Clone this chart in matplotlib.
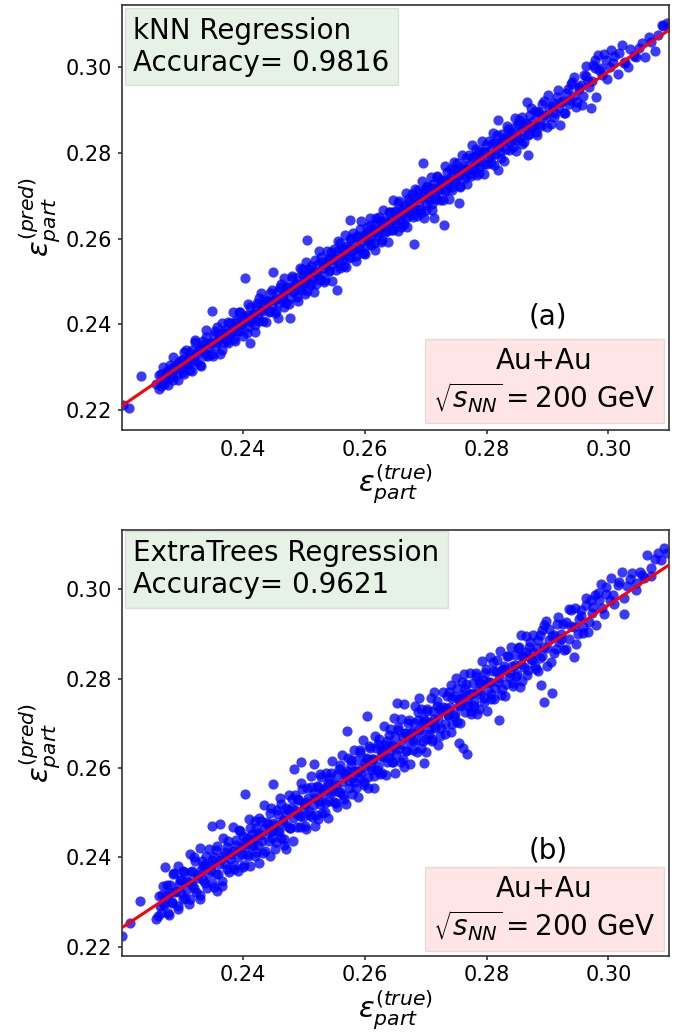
import matplotlib
matplotlib.use('Agg')
import matplotlib.pyplot as plt
import numpy as np

# ---------------- data ----------------
# kNN panel: (true, predicted) points, outer scatter
knn_points = [
    (0.2203,0.2213),(0.2213,0.2205),(0.2232,0.2280),(0.2257,0.2262),(0.2262,0.2250),(0.2266,0.2284),
    (0.2270,0.2262),(0.2275,0.2291),(0.2279,0.2276),(0.2283,0.2298),(0.2286,0.2270),(0.2289,0.2302),
    (0.2292,0.2284),(0.2295,0.2312),(0.2298,0.2297),
    (0.2301,0.2317),(0.2304,0.2285),(0.2307,0.2341),(0.2310,0.2308),(0.2313,0.2334),(0.2316,0.2292),
    (0.2319,0.2327),(0.2322,0.2363),(0.2325,0.2313),(0.2328,0.2342),(0.2331,0.2302),(0.2334,0.2362),
    (0.2337,0.2333),(0.2340,0.2386),(0.2343,0.2327),(0.2346,0.2357),(0.2349,0.2431),(0.2351,0.2327),
    (0.2354,0.2385),(0.2357,0.2358),(0.2360,0.2378),(0.2363,0.2331),(0.2366,0.2404),(0.2369,0.2360),
    (0.2372,0.2381),(0.2375,0.2356),(0.2378,0.2404),(0.2381,0.2379),(0.2384,0.2428),(0.2387,0.2361),
    (0.2390,0.2406),(0.2393,0.2384),(0.2396,0.2430),(0.2399,0.2400),
    (0.2401,0.2419),(0.2404,0.2508),(0.2406,0.2379),(0.2409,0.2447),(0.2412,0.2357),(0.2414,0.2405),
    (0.2417,0.2425),(0.2420,0.2383),(0.2423,0.2451),(0.2426,0.2409),(0.2429,0.2474),(0.2432,0.2432),
    (0.2435,0.2456),(0.2438,0.2406),(0.2441,0.2454),(0.2444,0.2432),(0.2447,0.2480),(0.2450,0.2523),
    (0.2452,0.2427),(0.2455,0.2460),(0.2458,0.2416),(0.2461,0.2486),(0.2464,0.2459),(0.2467,0.2508),
    (0.2470,0.2451),(0.2473,0.2488),(0.2476,0.2447),(0.2478,0.2414),(0.2481,0.2512),(0.2484,0.2475),
    (0.2487,0.2495),(0.2490,0.2455),(0.2493,0.2531),(0.2496,0.2481),(0.2498,0.2516),
    (0.2501,0.2497),(0.2503,0.2546),(0.2505,0.2596),(0.2506,0.2477),(0.2509,0.2530),(0.2511,0.2497),
    (0.2514,0.2523),(0.2517,0.2476),(0.2519,0.2550),(0.2522,0.2515),(0.2525,0.2571),(0.2527,0.2503),
    (0.2530,0.2546),(0.2533,0.2499),(0.2535,0.2538),(0.2538,0.2571),(0.2541,0.2524),(0.2543,0.2554),
    (0.2546,0.2502),(0.2549,0.2575),(0.2551,0.2549),(0.2554,0.2480),(0.2556,0.2595),(0.2559,0.2532),
    (0.2562,0.2575),(0.2564,0.2553),(0.2567,0.2608),(0.2570,0.2533),(0.2572,0.2578),(0.2575,0.2598),
    (0.2576,0.2643),(0.2578,0.2557),(0.2580,0.2613),(0.2583,0.2576),(0.2586,0.2547),(0.2588,0.2607),
    (0.2591,0.2577),(0.2594,0.2640),(0.2596,0.2567),(0.2599,0.2608),
    (0.2601,0.2564),(0.2604,0.2627),(0.2606,0.2594),(0.2609,0.2649),(0.2611,0.2584),(0.2614,0.2622),
    (0.2617,0.2573),(0.2619,0.2647),(0.2622,0.2615),(0.2625,0.2641),(0.2627,0.2593),(0.2630,0.2666),
    (0.2633,0.2616),(0.2635,0.2638),(0.2638,0.2591),(0.2641,0.2661),(0.2643,0.2621),(0.2646,0.2689),
    (0.2649,0.2644),(0.2651,0.2661),(0.2654,0.2617),(0.2657,0.2687),(0.2659,0.2645),(0.2662,0.2662),
    (0.2665,0.2635),(0.2667,0.2705),(0.2670,0.2628),(0.2672,0.2685),(0.2675,0.2655),(0.2678,0.2704),
    (0.2680,0.2670),(0.2681,0.2588),(0.2683,0.2716),(0.2686,0.2652),(0.2688,0.2694),(0.2691,0.2667),
    (0.2694,0.2734),(0.2696,0.2775),(0.2697,0.2649),(0.2699,0.2715),
    (0.2701,0.2667),(0.2703,0.2721),(0.2706,0.2690),(0.2708,0.2744),(0.2711,0.2667),(0.2713,0.2647),
    (0.2714,0.2718),(0.2717,0.2691),(0.2719,0.2745),(0.2722,0.2713),(0.2725,0.2736),(0.2728,0.2689),
    (0.2730,0.2632),(0.2731,0.2769),(0.2733,0.2714),(0.2736,0.2737),(0.2739,0.2693),(0.2741,0.2762),
    (0.2744,0.2720),(0.2747,0.2778),(0.2750,0.2738),(0.2752,0.2760),(0.2755,0.2682),(0.2757,0.2723),
    (0.2760,0.2794),(0.2763,0.2747),(0.2765,0.2763),(0.2768,0.2726),(0.2771,0.2795),(0.2773,0.2751),
    (0.2776,0.2817),(0.2779,0.2770),(0.2781,0.2792),(0.2784,0.2748),(0.2787,0.2805),(0.2789,0.2770),
    (0.2792,0.2828),(0.2795,0.2751),(0.2798,0.2802),
    (0.2801,0.2773),(0.2804,0.2828),(0.2807,0.2793),(0.2810,0.2846),(0.2813,0.2772),(0.2816,0.2822),
    (0.2818,0.2876),(0.2819,0.2760),(0.2822,0.2801),(0.2825,0.2844),(0.2828,0.2780),(0.2831,0.2830),
    (0.2834,0.2863),(0.2837,0.2806),(0.2840,0.2849),(0.2843,0.2832),(0.2846,0.2880),(0.2849,0.2805),
    (0.2852,0.2866),(0.2855,0.2834),(0.2858,0.2882),(0.2861,0.2825),(0.2864,0.2866),(0.2867,0.2919),
    (0.2868,0.2795),(0.2870,0.2844),(0.2873,0.2905),(0.2876,0.2862),(0.2880,0.2896),(0.2883,0.2842),
    (0.2886,0.2892),(0.2890,0.2862),(0.2894,0.2920),(0.2898,0.2882),
    (0.2901,0.2934),(0.2905,0.2866),(0.2909,0.2915),(0.2913,0.2892),(0.2917,0.2946),(0.2921,0.2864),
    (0.2925,0.2921),(0.2929,0.2892),(0.2933,0.2949),(0.2937,0.2923),(0.2940,0.2965),(0.2944,0.2977),
    (0.2948,0.2919),(0.2952,0.2952),(0.2956,0.2911),(0.2960,0.2980),(0.2964,0.3002),(0.2966,0.2966),
    (0.2971,0.2903),(0.2975,0.3005),(0.2978,0.3016),(0.2979,0.2930),(0.2983,0.3028),(0.2988,0.2998),
    (0.2992,0.3030),(0.2997,0.2972),(0.3005,0.3039),(0.3010,0.3025),(0.3015,0.2984),(0.3022,0.3050),
    (0.3028,0.3012),(0.3033,0.3000),(0.3042,0.3025),(0.3050,0.3043),(0.3060,0.3023),(0.3066,0.3070),
    (0.3076,0.3036),(0.3082,0.3075),(0.3088,0.3097),(0.3096,0.3101),(0.3098,0.3092),
]

# kNN panel: dense core of the band
knn_core = [
    (0.2262,0.2282),(0.2266,0.2256),(0.2268,0.2301),(0.2271,0.2273),(0.2275,0.2287),(0.2277,0.2260),
    (0.2280,0.2306),(0.2284,0.2280),(0.2286,0.2324),(0.2289,0.2297),(0.2293,0.2271),(0.2295,0.2311),
    (0.2298,0.2318),
    (0.2302,0.2290),(0.2304,0.2335),(0.2307,0.2307),(0.2311,0.2321),(0.2313,0.2294),(0.2316,0.2340),
    (0.2320,0.2314),(0.2322,0.2358),(0.2325,0.2331),(0.2329,0.2305),(0.2331,0.2345),(0.2334,0.2352),
    (0.2338,0.2326),(0.2340,0.2371),(0.2343,0.2343),(0.2347,0.2357),(0.2349,0.2330),
    (0.2352,0.2375),(0.2356,0.2349),(0.2358,0.2393),(0.2361,0.2366),(0.2365,0.2340),(0.2367,0.2380),
    (0.2370,0.2387),(0.2374,0.2361),(0.2376,0.2406),(0.2379,0.2378),(0.2383,0.2392),(0.2385,0.2365),
    (0.2388,0.2411),(0.2392,0.2385),(0.2394,0.2429),(0.2397,0.2402),
    (0.2400,0.2374),(0.2403,0.2415),(0.2406,0.2422),(0.2408,0.2394),(0.2411,0.2440),(0.2414,0.2412),
    (0.2416,0.2424),(0.2419,0.2398),(0.2422,0.2444),(0.2424,0.2416),(0.2427,0.2461),(0.2430,0.2434),
    (0.2433,0.2407),(0.2436,0.2448),(0.2439,0.2455),(0.2442,0.2428),(0.2445,0.2474),(0.2448,0.2446),
    (0.2451,0.2457),(0.2454,0.2431),(0.2457,0.2477),(0.2459,0.2449),(0.2462,0.2494),(0.2465,0.2467),
    (0.2468,0.2440),(0.2471,0.2481),(0.2474,0.2488),(0.2477,0.2461),(0.2480,0.2507),(0.2482,0.2478),
    (0.2485,0.2491),(0.2488,0.2465),(0.2491,0.2511),(0.2494,0.2484),(0.2497,0.2529),
    (0.2500,0.2500),(0.2502,0.2472),(0.2504,0.2512),(0.2507,0.2519),(0.2510,0.2492),(0.2512,0.2537),
    (0.2515,0.2509),(0.2518,0.2522),(0.2520,0.2495),(0.2523,0.2541),(0.2526,0.2514),(0.2528,0.2558),
    (0.2531,0.2531),(0.2534,0.2504),(0.2536,0.2544),(0.2539,0.2551),(0.2542,0.2524),(0.2544,0.2569),
    (0.2547,0.2541),(0.2550,0.2554),
    (0.2552,0.2526),(0.2555,0.2572),(0.2558,0.2545),(0.2560,0.2589),(0.2563,0.2562),(0.2566,0.2535),
    (0.2568,0.2575),(0.2571,0.2582),(0.2574,0.2555),(0.2577,0.2601),(0.2579,0.2572),(0.2582,0.2585),
    (0.2585,0.2559),(0.2587,0.2604),(0.2590,0.2577),(0.2593,0.2622),(0.2595,0.2594),(0.2598,0.2567),
    (0.2600,0.2606),(0.2603,0.2613),(0.2605,0.2585),(0.2608,0.2631),(0.2610,0.2602),(0.2613,0.2615),
    (0.2616,0.2589),(0.2618,0.2634),(0.2621,0.2607),(0.2623,0.2651),(0.2626,0.2624),(0.2629,0.2597),
    (0.2631,0.2637),(0.2634,0.2644),(0.2637,0.2617),(0.2639,0.2662),(0.2642,0.2634),(0.2644,0.2646),
    (0.2647,0.2620),
    (0.2650,0.2665),(0.2652,0.2637),(0.2655,0.2682),(0.2658,0.2655),(0.2660,0.2627),(0.2663,0.2668),
    (0.2666,0.2675),(0.2668,0.2647),(0.2671,0.2693),(0.2673,0.2664),(0.2676,0.2677),(0.2679,0.2651),
    (0.2681,0.2696),(0.2684,0.2669),(0.2687,0.2714),(0.2689,0.2686),(0.2692,0.2659),(0.2695,0.2700),
    (0.2697,0.2706),
    (0.2700,0.2678),(0.2702,0.2723),(0.2705,0.2695),(0.2707,0.2707),(0.2710,0.2681),(0.2712,0.2726),
    (0.2715,0.2699),(0.2718,0.2744),(0.2720,0.2716),(0.2723,0.2689),(0.2726,0.2730),(0.2729,0.2737),
    (0.2732,0.2710),(0.2735,0.2756),(0.2737,0.2727),(0.2740,0.2740),(0.2743,0.2714),(0.2746,0.2760),
    (0.2748,0.2732),
    (0.2751,0.2776),(0.2754,0.2749),(0.2756,0.2721),(0.2759,0.2762),(0.2762,0.2769),(0.2764,0.2741),
    (0.2767,0.2787),(0.2770,0.2759),(0.2772,0.2771),(0.2775,0.2745),(0.2778,0.2791),(0.2780,0.2763),
    (0.2783,0.2808),(0.2786,0.2781),(0.2788,0.2753),(0.2791,0.2794),(0.2794,0.2801),(0.2796,0.2773),
    (0.2799,0.2819),
    (0.2802,0.2790),(0.2805,0.2803),(0.2808,0.2777),(0.2811,0.2823),(0.2814,0.2796),(0.2817,0.2841),
    (0.2820,0.2814),(0.2823,0.2787),(0.2826,0.2828),(0.2829,0.2835),(0.2832,0.2808),(0.2835,0.2854),
    (0.2838,0.2826),(0.2841,0.2839),(0.2844,0.2813),(0.2847,0.2859),
    (0.2850,0.2830),(0.2853,0.2875),(0.2856,0.2848),(0.2859,0.2821),(0.2862,0.2862),(0.2865,0.2869),
    (0.2868,0.2842),(0.2871,0.2888),(0.2874,0.2860),(0.2877,0.2873),(0.2881,0.2848),(0.2884,0.2894),
    (0.2887,0.2867),(0.2891,0.2913),(0.2895,0.2887),
    (0.2899,0.2859),(0.2903,0.2901),(0.2907,0.2909),(0.2911,0.2883),(0.2915,0.2930),(0.2919,0.2903),
    (0.2923,0.2917),(0.2927,0.2892),(0.2931,0.2939),(0.2935,0.2913),(0.2939,0.2959),(0.2943,0.2933),
    (0.2947,0.2907),(0.2951,0.2949),(0.2955,0.2957),(0.2959,0.2931),(0.2963,0.2978),(0.2968,0.2952),
    (0.2973,0.2967),(0.2978,0.2998),(0.2984,0.2992),(0.2990,0.2980),(0.2996,0.3016),(0.3002,0.2999),
    (0.3008,0.3009),(0.3018,0.3032),(0.3026,0.3009),(0.3036,0.3042),(0.3046,0.3022),(0.3056,0.3056),
    (0.3070,0.3057),(0.3090,0.3094),
]

# ExtraTrees panel: outer scatter
et_points = [
    (0.2201,0.2224),(0.2215,0.2254),(0.2231,0.2303),(0.2258,0.2262),(0.2261,0.2269),(0.2264,0.2291),
    (0.2267,0.2316),(0.2270,0.2294),(0.2272,0.2378),(0.2275,0.2339),(0.2278,0.2272),(0.2281,0.2320),
    (0.2284,0.2298),(0.2287,0.2366),(0.2290,0.2324),(0.2293,0.2292),(0.2294,0.2381),(0.2296,0.2350),
    (0.2299,0.2321),
    (0.2302,0.2369),(0.2305,0.2309),(0.2308,0.2347),(0.2311,0.2295),(0.2313,0.2407),(0.2314,0.2368),
    (0.2317,0.2338),(0.2320,0.2401),(0.2323,0.2322),(0.2326,0.2360),(0.2329,0.2308),(0.2330,0.2422),
    (0.2332,0.2391),(0.2335,0.2349),(0.2338,0.2382),(0.2341,0.2332),(0.2344,0.2418),(0.2347,0.2371),
    (0.2349,0.2471),
    (0.2350,0.2395),(0.2353,0.2333),(0.2356,0.2416),(0.2357,0.2325),(0.2359,0.2364),(0.2362,0.2395),
    (0.2363,0.2475),(0.2365,0.2335),(0.2368,0.2443),(0.2371,0.2386),(0.2374,0.2424),(0.2377,0.2367),
    (0.2380,0.2407),(0.2383,0.2468),(0.2386,0.2383),(0.2389,0.2429),(0.2392,0.2369),(0.2395,0.2460),
    (0.2398,0.2408),
    (0.2400,0.2448),(0.2402,0.2384),(0.2404,0.2542),(0.2405,0.2430),(0.2407,0.2407),(0.2410,0.2485),
    (0.2412,0.2380),(0.2415,0.2453),(0.2417,0.2429),(0.2420,0.2482),(0.2422,0.2412),(0.2425,0.2455),
    (0.2427,0.2387),(0.2430,0.2482),(0.2432,0.2437),(0.2435,0.2517),(0.2437,0.2415),(0.2440,0.2480),
    (0.2442,0.2457),(0.2445,0.2404),(0.2446,0.2511),(0.2448,0.2443),(0.2450,0.2564),
    (0.2451,0.2478),(0.2453,0.2420),(0.2456,0.2506),(0.2458,0.2461),(0.2461,0.2534),(0.2463,0.2443),
    (0.2466,0.2483),(0.2468,0.2428),(0.2470,0.2419),(0.2471,0.2511),(0.2473,0.2470),(0.2476,0.2539),
    (0.2478,0.2465),(0.2481,0.2511),(0.2483,0.2436),(0.2484,0.2597),(0.2486,0.2539),(0.2488,0.2498),
    (0.2491,0.2528),(0.2493,0.2468),(0.2495,0.2614),(0.2496,0.2566),(0.2498,0.2491),
    (0.2501,0.2519),(0.2503,0.2463),(0.2506,0.2556),(0.2508,0.2503),(0.2511,0.2583),(0.2513,0.2491),
    (0.2516,0.2609),(0.2517,0.2545),(0.2519,0.2471),(0.2521,0.2561),(0.2524,0.2486),(0.2525,0.2527),
    (0.2527,0.2587),(0.2530,0.2500),(0.2532,0.2552),(0.2535,0.2523),(0.2537,0.2589),(0.2540,0.2488),
    (0.2542,0.2577),(0.2545,0.2545),(0.2547,0.2615),(0.2549,0.2524),
    (0.2552,0.2563),(0.2554,0.2512),(0.2557,0.2598),(0.2559,0.2547),(0.2562,0.2630),(0.2564,0.2540),
    (0.2567,0.2588),(0.2569,0.2520),(0.2571,0.2684),(0.2572,0.2623),(0.2574,0.2572),(0.2577,0.2608),
    (0.2579,0.2543),(0.2582,0.2640),(0.2584,0.2570),(0.2587,0.2593),(0.2589,0.2535),(0.2592,0.2636),
    (0.2594,0.2588),(0.2597,0.2663),(0.2599,0.2570),
    (0.2602,0.2623),(0.2604,0.2716),(0.2605,0.2556),(0.2607,0.2650),(0.2610,0.2596),(0.2612,0.2621),
    (0.2615,0.2556),(0.2617,0.2673),(0.2620,0.2596),(0.2622,0.2653),(0.2625,0.2586),(0.2627,0.2640),
    (0.2630,0.2626),(0.2632,0.2695),(0.2635,0.2584),(0.2637,0.2660),(0.2640,0.2623),(0.2642,0.2688),
    (0.2645,0.2614),(0.2647,0.2650),(0.2648,0.2712),
    (0.2650,0.2588),(0.2653,0.2746),(0.2655,0.2686),(0.2657,0.2643),(0.2660,0.2711),(0.2662,0.2620),
    (0.2664,0.2743),(0.2665,0.2602),(0.2667,0.2678),(0.2670,0.2641),(0.2672,0.2708),(0.2675,0.2609),
    (0.2677,0.2681),(0.2680,0.2661),(0.2682,0.2738),(0.2685,0.2636),(0.2687,0.2708),(0.2689,0.2758),
    (0.2690,0.2681),(0.2692,0.2733),(0.2695,0.2661),(0.2697,0.2611),(0.2698,0.2706),
    (0.2700,0.2636),(0.2703,0.2732),(0.2705,0.2676),(0.2708,0.2757),(0.2710,0.2661),(0.2713,0.2770),
    (0.2714,0.2710),(0.2716,0.2695),(0.2719,0.2740),(0.2721,0.2652),(0.2724,0.2733),(0.2726,0.2689),
    (0.2729,0.2770),(0.2731,0.2677),(0.2734,0.2735),(0.2736,0.2719),(0.2739,0.2770),(0.2741,0.2785),
    (0.2742,0.2681),(0.2744,0.2757),(0.2747,0.2716),(0.2749,0.2802),
    (0.2752,0.2704),(0.2754,0.2656),(0.2755,0.2754),(0.2757,0.2739),(0.2760,0.2792),(0.2762,0.2646),
    (0.2763,0.2811),(0.2765,0.2777),(0.2768,0.2631),(0.2769,0.2738),(0.2772,0.2814),(0.2774,0.2721),
    (0.2777,0.2769),(0.2780,0.2739),(0.2782,0.2807),(0.2785,0.2722),(0.2787,0.2792),(0.2790,0.2765),
    (0.2792,0.2839),(0.2795,0.2747),(0.2797,0.2812),
    (0.2800,0.2727),(0.2803,0.2793),(0.2806,0.2848),(0.2807,0.2767),(0.2810,0.2837),(0.2813,0.2755),
    (0.2816,0.2818),(0.2819,0.2793),(0.2820,0.2708),(0.2822,0.2862),(0.2825,0.2777),(0.2828,0.2822),
    (0.2831,0.2761),(0.2834,0.2851),(0.2837,0.2804),(0.2840,0.2872),(0.2843,0.2783),(0.2846,0.2830),
    (0.2849,0.2806),
    (0.2852,0.2869),(0.2855,0.2782),(0.2856,0.2897),(0.2858,0.2850),(0.2861,0.2826),(0.2864,0.2896),
    (0.2867,0.2809),(0.2870,0.2872),(0.2873,0.2845),(0.2876,0.2898),(0.2879,0.2828),(0.2882,0.2869),
    (0.2885,0.2817),(0.2888,0.2897),(0.2889,0.2785),(0.2891,0.2850),(0.2894,0.2749),(0.2895,0.2921),
    (0.2897,0.2930),(0.2899,0.2868),
    (0.2902,0.2912),(0.2906,0.2838),(0.2908,0.2768),(0.2910,0.2897),(0.2914,0.2866),(0.2918,0.2938),
    (0.2922,0.2889),(0.2926,0.2923),(0.2930,0.2867),(0.2935,0.2957),(0.2938,0.2918),(0.2943,0.2848),
    (0.2946,0.2958),(0.2950,0.2900),
    (0.2955,0.2953),(0.2959,0.2915),(0.2963,0.2981),(0.2967,0.2905),(0.2971,0.2976),(0.2975,0.2961),
    (0.2979,0.2920),(0.2983,0.2993),(0.2988,0.3013),(0.2992,0.2945),(0.2996,0.2989),
    (0.3004,0.3025),(0.3010,0.2968),(0.3016,0.3009),(0.3022,0.3039),(0.3025,0.2945),(0.3030,0.3008),
    (0.3038,0.3036),(0.3045,0.2998),(0.3052,0.3040),(0.3058,0.3026),(0.3064,0.3077),(0.3070,0.3048),
    (0.3076,0.3069),(0.3086,0.3066),(0.3091,0.3092),(0.3097,0.3081),
]

# ExtraTrees panel: dense core of the band
et_core = [
    (0.2262,0.2313),(0.2266,0.2275),(0.2268,0.2337),(0.2271,0.2297),(0.2275,0.2315),(0.2277,0.2276),
    (0.2280,0.2339),(0.2284,0.2301),(0.2286,0.2362),(0.2289,0.2323),(0.2293,0.2285),(0.2295,0.2340),
    (0.2298,0.2349),
    (0.2302,0.2306),(0.2304,0.2368),(0.2307,0.2328),(0.2311,0.2346),(0.2313,0.2307),(0.2316,0.2370),
    (0.2320,0.2332),(0.2322,0.2393),(0.2325,0.2354),(0.2329,0.2316),(0.2331,0.2371),(0.2334,0.2380),
    (0.2338,0.2342),(0.2340,0.2404),(0.2343,0.2364),(0.2347,0.2382),(0.2349,0.2343),
    (0.2352,0.2402),(0.2356,0.2364),(0.2358,0.2425),(0.2361,0.2386),(0.2365,0.2348),(0.2367,0.2403),
    (0.2370,0.2412),(0.2374,0.2374),(0.2376,0.2436),(0.2379,0.2396),(0.2383,0.2414),(0.2385,0.2375),
    (0.2388,0.2438),(0.2392,0.2400),(0.2394,0.2461),(0.2397,0.2422),
    (0.2400,0.2378),(0.2403,0.2434),(0.2406,0.2443),(0.2408,0.2403),(0.2411,0.2466),(0.2414,0.2426),
    (0.2416,0.2442),(0.2419,0.2404),(0.2422,0.2467),(0.2424,0.2427),(0.2427,0.2489),(0.2430,0.2450),
    (0.2433,0.2411),(0.2436,0.2467),(0.2439,0.2476),(0.2442,0.2437),(0.2445,0.2500),(0.2448,0.2460),
    (0.2451,0.2472),(0.2454,0.2434),(0.2457,0.2497),(0.2459,0.2457),(0.2462,0.2519),(0.2465,0.2480),
    (0.2468,0.2441),(0.2471,0.2497),(0.2474,0.2506),(0.2477,0.2467),(0.2480,0.2530),(0.2482,0.2489),
    (0.2485,0.2506),(0.2488,0.2468),(0.2491,0.2531),(0.2494,0.2492),(0.2497,0.2554),
    (0.2500,0.2510),(0.2502,0.2470),(0.2504,0.2525),(0.2507,0.2534),(0.2510,0.2495),(0.2512,0.2557),
    (0.2515,0.2517),(0.2518,0.2534),(0.2520,0.2495),(0.2523,0.2558),(0.2526,0.2519),(0.2528,0.2580),
    (0.2531,0.2541),(0.2534,0.2502),(0.2536,0.2557),(0.2539,0.2566),(0.2542,0.2527),(0.2544,0.2589),
    (0.2547,0.2549),(0.2550,0.2566),
    (0.2552,0.2523),(0.2555,0.2586),(0.2558,0.2547),(0.2560,0.2608),(0.2563,0.2569),(0.2566,0.2530),
    (0.2568,0.2585),(0.2571,0.2594),(0.2574,0.2555),(0.2577,0.2618),(0.2579,0.2577),(0.2582,0.2594),
    (0.2585,0.2556),(0.2587,0.2618),(0.2590,0.2579),(0.2593,0.2641),(0.2595,0.2601),(0.2598,0.2562),
    (0.2600,0.2612),(0.2603,0.2621),(0.2605,0.2581),(0.2608,0.2644),(0.2610,0.2603),(0.2613,0.2620),
    (0.2616,0.2582),(0.2618,0.2644),(0.2621,0.2605),(0.2623,0.2666),(0.2626,0.2627),(0.2629,0.2588),
    (0.2631,0.2643),(0.2634,0.2652),(0.2637,0.2613),(0.2639,0.2675),(0.2642,0.2635),(0.2644,0.2651),
    (0.2647,0.2613),
    (0.2650,0.2671),(0.2652,0.2631),(0.2655,0.2693),(0.2658,0.2654),(0.2660,0.2614),(0.2663,0.2670),
    (0.2666,0.2679),(0.2668,0.2639),(0.2671,0.2702),(0.2673,0.2661),(0.2676,0.2678),(0.2679,0.2640),
    (0.2681,0.2702),(0.2684,0.2663),(0.2687,0.2725),(0.2689,0.2685),(0.2692,0.2646),(0.2695,0.2702),
    (0.2697,0.2710),
    (0.2700,0.2666),(0.2702,0.2728),(0.2705,0.2688),(0.2707,0.2704),(0.2710,0.2666),(0.2712,0.2728),
    (0.2715,0.2689),(0.2718,0.2751),(0.2720,0.2711),(0.2723,0.2672),(0.2726,0.2728),(0.2729,0.2737),
    (0.2732,0.2698),(0.2735,0.2761),(0.2737,0.2720),(0.2740,0.2737),(0.2743,0.2699),(0.2746,0.2762),
    (0.2748,0.2722),
    (0.2751,0.2780),(0.2754,0.2741),(0.2756,0.2701),(0.2759,0.2757),(0.2762,0.2766),(0.2764,0.2726),
    (0.2767,0.2789),(0.2770,0.2749),(0.2772,0.2765),(0.2775,0.2727),(0.2778,0.2790),(0.2780,0.2750),
    (0.2783,0.2812),(0.2786,0.2773),(0.2788,0.2733),(0.2791,0.2789),(0.2794,0.2798),(0.2796,0.2758),
    (0.2799,0.2821),
    (0.2802,0.2776),(0.2805,0.2793),(0.2808,0.2755),(0.2811,0.2818),(0.2814,0.2779),(0.2817,0.2841),
    (0.2820,0.2802),(0.2823,0.2763),(0.2826,0.2819),(0.2829,0.2828),(0.2832,0.2789),(0.2835,0.2852),
    (0.2838,0.2812),(0.2841,0.2829),(0.2844,0.2791),(0.2847,0.2854),
    (0.2850,0.2810),(0.2853,0.2872),(0.2856,0.2833),(0.2859,0.2794),(0.2862,0.2850),(0.2865,0.2859),
    (0.2868,0.2820),(0.2871,0.2883),(0.2874,0.2843),(0.2877,0.2860),(0.2881,0.2823),(0.2884,0.2886),
    (0.2887,0.2847),(0.2891,0.2910),(0.2895,0.2872),
    (0.2899,0.2829),(0.2903,0.2886),(0.2907,0.2896),(0.2911,0.2858),(0.2915,0.2922),(0.2919,0.2883),
    (0.2923,0.2901),(0.2927,0.2864),(0.2931,0.2928),(0.2935,0.2890),(0.2939,0.2953),(0.2943,0.2915),
    (0.2947,0.2877),(0.2951,0.2934),(0.2955,0.2940),(0.2959,0.2902),(0.2963,0.2966),(0.2968,0.2928),
    (0.2973,0.2947),(0.2978,0.2988),(0.2984,0.2977),(0.2990,0.2958),(0.2996,0.3006),(0.3002,0.2976),
    (0.3008,0.2988),(0.3018,0.3016),(0.3026,0.2981),(0.3036,0.3024),(0.3046,0.3014),(0.3056,0.3033),
    (0.3070,0.3029),(0.3082,0.3082),
]

# fitted regression lines (slope, intercept)
knn_fit = (0.9747, 0.00647)
et_fit = (0.9040, 0.02529)

model_names = ["kNN Regression", "ExtraTrees Regression"]
accuracies = ["0.9816", "0.9621"]
panel_tags = ["(a)", "(b)"]
xticks = [0.24, 0.26, 0.28, 0.30]
yticks = [0.22, 0.24, 0.26, 0.28, 0.30]

# ---------------- figure ----------------
fig = plt.figure(figsize=(6.92, 10.33), dpi=100)
plt.rcParams['mathtext.fontset'] = 'dejavusans'

axes_rects = [
    [0.1759, 0.5837, 0.7904, 0.4119],
    [0.1759, 0.0748, 0.7904, 0.4121],
]
ylims = [(0.2154, 0.3145), (0.2180, 0.3133)]
xlim = (0.2201, 0.3099)
green_y = [0.9716, 0.979]
pink_y = [0.036, 0.030]
tag_y = [0.266, 0.248]

panels = [(knn_points + knn_core, knn_fit), (et_points + et_core, et_fit)]
for i, (pts, fit) in enumerate(panels):
    ax = fig.add_axes(axes_rects[i])
    arr = np.array(pts)
    ax.scatter(arr[:, 0], arr[:, 1], s=54, color='blue', alpha=0.77, linewidths=0, zorder=2)
    xs = np.array(xlim)
    ax.plot(xs, fit[0] * xs + fit[1], color='red', lw=2.2, zorder=3)
    ax.set_xlim(*xlim)
    ax.set_ylim(*ylims[i])
    ax.set_xticks(xticks)
    ax.set_yticks(yticks)
    ax.set_xticklabels([f"{t:.2f}" for t in xticks])
    ax.set_yticklabels([f"{t:.2f}" for t in yticks])
    ax.tick_params(labelsize=15, length=3, width=1.2, color='#333333', pad=4)
    for sp in ax.spines.values():
        sp.set_color('#333333')
        sp.set_linewidth(1.2)
    ax.set_xlabel(r"$\epsilon_{part}^{(true)}$", fontsize=21, labelpad=2)
    ax.set_ylabel(r"$\epsilon_{part}^{(pred)}$", fontsize=21, labelpad=2)

    ax.text(0.0207, green_y[i], f"{model_names[i]}\nAccuracy= {accuracies[i]}",
            transform=ax.transAxes, fontsize=20, va='top', ha='left',
            bbox=dict(facecolor='green', alpha=0.1, boxstyle='square,pad=0.3'), zorder=5)
    ax.text(0.773, pink_y[i], "Au+Au\n" + r"$\sqrt{s_{NN}}=200$ GeV",
            transform=ax.transAxes, fontsize=20, va='bottom', ha='center', multialignment='center',
            bbox=dict(facecolor='red', alpha=0.1, boxstyle='square,pad=0.3'), zorder=5)
    ax.text(0.780, tag_y[i], panel_tags[i], transform=ax.transAxes, fontsize=20,
            va='center', ha='center')

fig.savefig('out.png', dpi=100)
